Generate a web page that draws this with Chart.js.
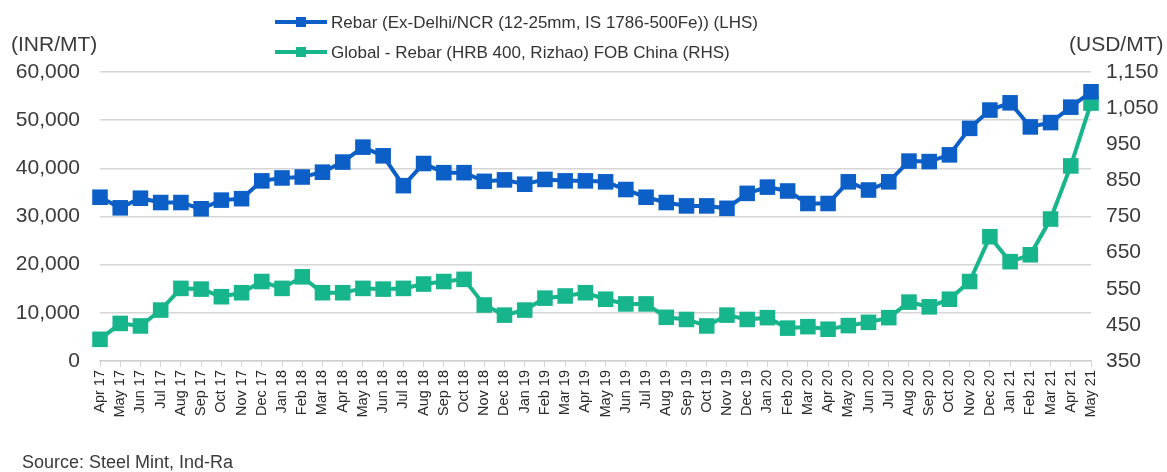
<!DOCTYPE html>
<html>
<head>
<meta charset="utf-8">
<script src="https://cdn.jsdelivr.net/npm/chart.js@4/dist/chart.umd.min.js"></script>
<style>
  html, body { margin: 0; padding: 0; background: #ffffff; }
  #wrap { position: relative; width: 1167px; height: 472px; overflow: hidden; font-family: "Liberation Sans", Arial, sans-serif; }
  #c { position: absolute; left: 0; top: 0; }
  .txt { position: absolute; white-space: nowrap; color: #3a3a3a; line-height: 1; }
  .leg { position: absolute; left: 275px; height: 20px; }
  .leg .ln { position: absolute; left: 0; top: 8px; width: 52px; height: 4px; }
  .leg .mk { position: absolute; left: 21px; top: 5px; width: 10px; height: 10px; }
  .leg .lt { position: absolute; left: 56px; top: 1px; font-size: 17px; color: #333; white-space: nowrap; }
</style>
</head>
<body>
<div id="wrap">
  <canvas id="c" width="1167" height="472"></canvas>
  <div class="leg" style="top:12px"><div class="ln" id="ln0"></div><div class="mk" id="mk0"></div><div class="lt" id="lt0"></div></div>
  <div class="leg" style="top:42px"><div class="ln" id="ln1"></div><div class="mk" id="mk1"></div><div class="lt" id="lt1"></div></div>
  <div class="txt" style="left:11px; top:33px; font-size:21px;">(INR/MT)</div>
  <div class="txt" style="left:1069px; top:33px; font-size:21px;">(USD/MT)</div>
  <div class="txt" style="left:22px; top:453px; font-size:18px;">Source: Steel Mint, Ind-Ra</div>
</div>
<script>
const categories = [
  "Apr 17","May 17","Jun 17","Jul 17","Aug 17","Sep 17","Oct 17","Nov 17","Dec 17",
  "Jan 18","Feb 18","Mar 18","Apr 18","May 18","Jun 18","Jul 18","Aug 18","Sep 18","Oct 18","Nov 18","Dec 18",
  "Jan 19","Feb 19","Mar 19","Apr 19","May 19","Jun 19","Jul 19","Aug 19","Sep 19","Oct 19","Nov 19","Dec 19",
  "Jan 20","Feb 20","Mar 20","Apr 20","May 20","Jun 20","Jul 20","Aug 20","Sep 20","Oct 20","Nov 20","Dec 20",
  "Jan 21","Feb 21","Mar 21","Apr 21","May 21"
];
const rebarDelhiINR = [
  34000, 31800, 33800, 32900, 32900, 31600, 33400, 33700, 37400,
  38000, 38200, 39200, 41300, 44400, 42600, 36400, 41000, 39100, 39100, 37300, 37600,
  36700, 37700, 37400, 37400, 37200, 35600, 34000, 32900, 32200, 32200, 31700, 34800,
  36100, 35300, 32700, 32700, 37200, 35500, 37200, 41500, 41400, 42800, 48300, 52100,
  53600, 48600, 49500, 52700, 55900
];
const rebarChinaUSD = [
  410, 454, 447, 491, 551, 549, 528, 539, 570,
  551, 583, 539, 539, 551, 549, 551, 563, 570, 576, 505, 477,
  491, 524, 530, 539, 521, 508, 508, 471, 465, 447, 477, 465,
  470, 441, 445, 438, 448, 457, 470, 513, 500, 521, 570, 694,
  625, 644, 743, 890, 1064
];
const seriesNames = [
  "Rebar (Ex-Delhi/NCR (12-25mm, IS 1786-500Fe)) (LHS)",
  "Global - Rebar (HRB 400, Rizhao) FOB China (RHS)"
];
const leftTicks = [0, 10000, 20000, 30000, 40000, 50000, 60000];
const rightTicks = [350, 450, 550, 650, 750, 850, 950, 1050, 1150];

const BLUE = "#0b5fc6";
const GREEN = "#17b58b";
const colors = [BLUE, GREEN];

for (let i = 0; i < 2; i++) {
  document.getElementById("ln" + i).style.background = colors[i];
  document.getElementById("mk" + i).style.background = colors[i];
  document.getElementById("lt" + i).textContent = seriesNames[i];
}

const fmt = v => v.toLocaleString("en-US");
const tickFont = { family: "'Liberation Sans', Arial, sans-serif", size: 21 };

new Chart(document.getElementById("c"), {
  type: "line",
  data: {
    labels: categories,
    datasets: [
      {
        label: seriesNames[0], data: rebarDelhiINR, yAxisID: "y",
        borderColor: BLUE, backgroundColor: BLUE, borderWidth: 4,
        pointStyle: "rect", pointRadius: 11, pointHoverRadius: 11,
        pointBorderWidth: 0, tension: 0
      },
      {
        label: seriesNames[1], data: rebarChinaUSD, yAxisID: "y1",
        borderColor: GREEN, backgroundColor: GREEN, borderWidth: 4,
        pointStyle: "rect", pointRadius: 11, pointHoverRadius: 11,
        pointBorderWidth: 0, tension: 0
      }
    ]
  },
  options: {
    responsive: false,
    devicePixelRatio: 1,
    animation: false,
    layout: { padding: { top: 72, left: 0, right: 0, bottom: 0 } },
    plugins: { legend: { display: false }, tooltip: { enabled: false } },
    scales: {
      x: {
        type: "category",
        offset: false,
        grid: { drawOnChartArea: false, drawTicks: true, tickLength: 6, color: "#d4d4d4", lineWidth: 1 },
        border: { display: true, color: "#cfcfcf", width: 1.5 },
        ticks: {
          autoSkip: false, maxRotation: 90, minRotation: 90, padding: 3,
          color: "#2a2a2a", font: { family: "'Liberation Sans', Arial, sans-serif", size: 14.5 }
        },
        afterFit: s => { s.height = 111; }
      },
      y: {
        position: "left", min: 0, max: 60000,
        afterBuildTicks: s => { s.ticks = leftTicks.map(v => ({ value: v })); },
        grid: { drawTicks: false, color: "#d6d6d6", lineWidth: 1.5 },
        border: { display: false },
        ticks: { padding: 20, color: "#3a3a3a", font: tickFont, callback: v => fmt(v) },
        afterFit: s => { s.width = 100; }
      },
      y1: {
        position: "right", min: 350, max: 1150,
        afterBuildTicks: s => { s.ticks = rightTicks.map(v => ({ value: v })); },
        grid: { drawOnChartArea: false, drawTicks: false },
        border: { display: false },
        ticks: { padding: 15, color: "#3a3a3a", font: tickFont, callback: v => fmt(v) },
        afterFit: s => { s.width = 76; }
      }
    }
  }
});
</script>
</body>
</html>
